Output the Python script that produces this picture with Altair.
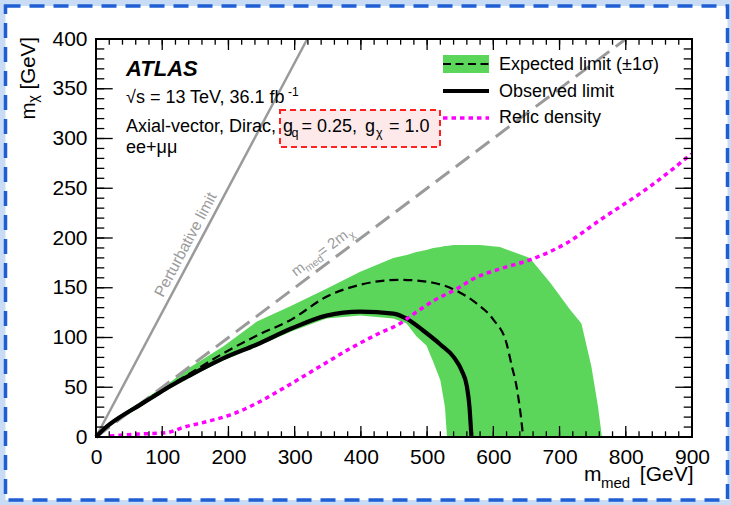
import math
import altair as alt
import pandas as pd

# ---------------------------------------------------------------- data (GeV)
# observed 95% CL exclusion contour
obs_med = [0, 12, 34, 66, 90, 112, 142, 192, 243, 295, 348, 399, 449, 469,
           494, 520, 540, 552, 560, 564, 566, 567]
obs_chi = [0, 8, 19, 32, 42, 51, 62, 79, 93, 109, 122, 126, 124, 119,
           107, 93, 80.5, 67, 51, 30, 10, 0]

# expected exclusion contour
exp_med = [0, 12, 34, 66, 112, 142, 192, 243, 295, 348, 399, 459, 509, 550, 575,
           600, 620, 628, 635, 641, 645]
exp_chi = [0, 8, 19, 33, 52, 64, 84, 102, 118, 141, 153, 158, 155, 145, 134,
           118, 94, 71, 51, 24, 0]

# +-1 sigma band around the expected contour
band_med = [0, 34, 66, 112, 142, 192, 243, 295, 348, 399, 449, 469, 484, 499,
            509, 520, 527, 530, 540, 580, 610, 655, 686, 716, 733, 748, 758, 764]
band_lo = [0, 17, 30, 49, 60, 77, 91, 106, 119, 122, 119, 114, 101, 92,
           76, 57, 30, 0, 0, 0, 0, 0, 0, 0, 0, 0, 0, 0]
band_hi = [0, 21, 35, 55, 70, 91, 116, 132, 149, 166, 180, 183, 186, 188,
           190, 191, 192, 192, 193, 193, 191, 180, 155, 128, 114, 71, 31, 0]

# relic density curve
relic_med = [21, 66, 107, 132, 167, 202, 243, 288, 336, 384, 430, 459, 474, 510,
             545, 570, 610, 655, 711, 761, 837, 900]
relic_chi = [1, 3, 4.4, 9.7, 15.4, 22, 34, 51, 70, 89, 105, 114, 121, 137,
             149, 159, 169, 178, 195, 218, 252, 285]

# reference lines
pert_med = [0, 319]
pert_chi = [0, 400]
diag_med = [0, 800]
diag_chi = [0, 400]

# axis ticks
x_major = [0, 100, 200, 300, 400, 500, 600, 700, 800, 900]
y_major = [0, 50, 100, 150, 200, 250, 300, 350, 400]
x_minor = list(range(0, 901, 20))
y_minor = list(range(0, 401, 10))

# ---------------------------------------------------------------- layout
W, H = 596, 398          # plot area
L, T = 96, 39            # plot origin on the page
FONT = "Liberation Sans"
GREEN = "#5bd65b"
GREY = "#9a9a9a"
MAGENTA = "#ff00ff"

xs = alt.Scale(domain=[0, 900], nice=False, zero=False)
ys = alt.Scale(domain=[0, 400], nice=False, zero=False)
xaxis = alt.Axis(values=x_major, ticks=False, domain=False, grid=False,
                 labelFontSize=21, labelFont=FONT, labelColor="black",
                 labelPadding=9, labelFlush=False, format="d", zindex=2)
yaxis = alt.Axis(values=y_major, ticks=False, domain=False, grid=False,
                 labelFontSize=21, labelFont=FONT, labelColor="black",
                 labelPadding=9, labelFlush=False, format="d", zindex=2)


def X(field="med"):
    return alt.X(f"{field}:Q", scale=xs, axis=xaxis, title=None)


def Y(field="chi"):
    return alt.Y(f"{field}:Q", scale=ys, axis=yaxis, title=None)


one = alt.Data(values=[{}])


def px(v):
    return alt.value(v - L)


def py(v):
    return alt.value(v - T)


def text(s, x, y, size=18, align="left", **kw):
    props = dict(text=s, align=align, baseline="alphabetic", fontSize=size,
                 font=FONT, color="black")
    props.update(kw)
    return alt.Chart(one).mark_text(**props).encode(x=px(x), y=py(y))


def curve(mx, my, **kw):
    df = pd.DataFrame({"med": mx, "chi": my})
    return alt.Chart(df).mark_line(**kw).encode(x=X(), y=Y())


layers = []

# page background with dashed border
layers.append(
    alt.Chart(one).mark_rect(fill="white", stroke="#1f5fd3", strokeWidth=3.5,
                             strokeDash=[15, 9])
    .encode(x=px(5.5), x2=px(727.5), y=py(6), y2=py(500))
)

# +-1 sigma band
band_df = pd.DataFrame({"med": band_med, "lo": band_lo, "hi": band_hi})
layers.append(
    alt.Chart(band_df).mark_area(color=GREEN, opacity=1)
    .encode(x=X(), y=Y("lo"), y2="hi:Q")
)

# reference lines
layers.append(curve(pert_med, pert_chi, color=GREY, strokeWidth=2.5))
layers.append(curve(diag_med, diag_chi, color=GREY, strokeWidth=3,
                    strokeDash=[17, 8]))

# limits and relic curve
layers.append(curve(exp_med, exp_chi, color="black", strokeWidth=2.2,
                    strokeDash=[9, 5], interpolate="monotone"))
layers.append(curve(obs_med, obs_chi, color="black", strokeWidth=4.2,
                    interpolate="monotone"))
layers.append(curve(relic_med, relic_chi, color=MAGENTA, strokeWidth=3.5,
                    strokeDash=[4.5, 4], interpolate="monotone"))

# labels along the reference lines
pert_ang = math.degrees(math.atan((400 / 319) * (H / 400) / (W / 900)))
layers.append(text("Perturbative limit", 163, 298, size=15.5, color=GREY,
                   angle=360 - pert_ang))

diag_ang = math.degrees(math.atan(0.5 * (H / 400) / (W / 900)))
ca, sa = math.cos(math.radians(diag_ang)), math.sin(math.radians(diag_ang))
bx, by = 296, 277
for s, size, along, down in [("m", 15, 0, 0), ("med", 10.5, 12.5, 3.5),
                             (" = 2m", 15, 32.5, 0), ("χ", 10.5, 67, 3.5)]:
    layers.append(text(s, bx + ca * along + sa * down,
                       by - sa * along + ca * down,
                       size=size, color=GREY, angle=360 - diag_ang))

# experiment labels
layers.append(text("ATLAS", 126, 76, size=22, fontWeight="bold",
                   fontStyle="italic"))
layers.append(text("√s = 13 TeV, 36.1 fb", 126, 103))
layers.append(text("-1", 288, 96, size=12))
layers.append(
    alt.Chart(one).mark_rect(fill="#fde9e9", stroke="#ff2020", strokeWidth=2,
                             strokeDash=[6, 4])
    .encode(x=px(280), x2=px(440), y=py(110), y2=py(147))
)
layers.append(text("Axial-vector, Dirac,", 126, 132))
layers.append(text("g", 283, 132))
layers.append(text("q", 291.5, 137, size=12.5))
layers.append(text("= 0.25,", 301.5, 132))
layers.append(text("g", 365, 132))
layers.append(text("χ", 376, 137, size=12.5))
layers.append(text("= 1.0", 389, 132))
layers.append(text("ee+μμ", 126, 153))

# legend
layers.append(alt.Chart(one).mark_rect(color=GREEN)
              .encode(x=px(443), x2=px(489), y=py(55), y2=py(73)))
layers.append(alt.Chart(one).mark_rule(color="black", strokeWidth=2.2,
                                       strokeDash=[8, 4.5])
              .encode(x=px(443), x2=px(489), y=py(64)))
layers.append(alt.Chart(one).mark_rule(color="black", strokeWidth=4.2)
              .encode(x=px(443), x2=px(489), y=py(91)))
layers.append(alt.Chart(one).mark_rule(color=MAGENTA, strokeWidth=3.5,
                                       strokeDash=[4.5, 4])
              .encode(x=px(443), x2=px(489), y=py(118)))
layers.append(text("Expected limit (±1σ)", 499, 70))
layers.append(text("Observed limit", 499, 96.5))
layers.append(text("Relic density", 499, 122.5))

# axis titles
layers.append(text("m", 584, 481, size=21))
layers.append(text("med", 601, 487.5, size=15))
layers.append(text("[GeV]", 693.5, 481, size=21, align="right"))
layers.append(text("[GeV]", 35, 37, size=20.5, align="right", angle=270))
layers.append(text("χ", 38, 95, size=14.5, align="right", angle=270))
layers.append(text("m", 35, 102.5, size=20.5, align="right", angle=270))

# tick marks on all four sides, pointing inwards
xmaj = pd.DataFrame({"med": x_major})
xmin = pd.DataFrame({"med": x_minor})
ymaj = pd.DataFrame({"chi": y_major})
ymin = pd.DataFrame({"chi": y_minor})
for df, ln in [(xmaj, 11), (xmin, 5.7)]:
    layers.append(alt.Chart(df).mark_rule(color="black", strokeWidth=1.3)
                  .encode(x=X(), y=alt.value(H), y2=alt.value(H - ln)))
    layers.append(alt.Chart(df).mark_rule(color="black", strokeWidth=1.3)
                  .encode(x=X(), y=alt.value(0), y2=alt.value(ln)))
for df, ln in [(ymaj, 16.7), (ymin, 8.3)]:
    layers.append(alt.Chart(df).mark_rule(color="black", strokeWidth=1.3)
                  .encode(y=Y(), x=alt.value(0), x2=alt.value(ln)))
    layers.append(alt.Chart(df).mark_rule(color="black", strokeWidth=1.3)
                  .encode(y=Y(), x=alt.value(W - ln), x2=alt.value(W)))

# frame
layers.append(alt.Chart(one).mark_rect(filled=False, color="black",
                                       strokeWidth=2)
              .encode(x=alt.value(0), x2=alt.value(W), y=alt.value(0),
                      y2=alt.value(H)))

chart = (
    alt.layer(*layers)
    .properties(width=W, height=H,
                padding={"left": L, "top": T, "right": 731 - L - W,
                         "bottom": 505 - T - H},
                autosize=alt.AutoSizeParams(type="none"),
                background="#c9dcf6")
    .configure_view(strokeWidth=0)
)

chart.save("out.html", embed_options={"renderer": "svg", "actions": False})
